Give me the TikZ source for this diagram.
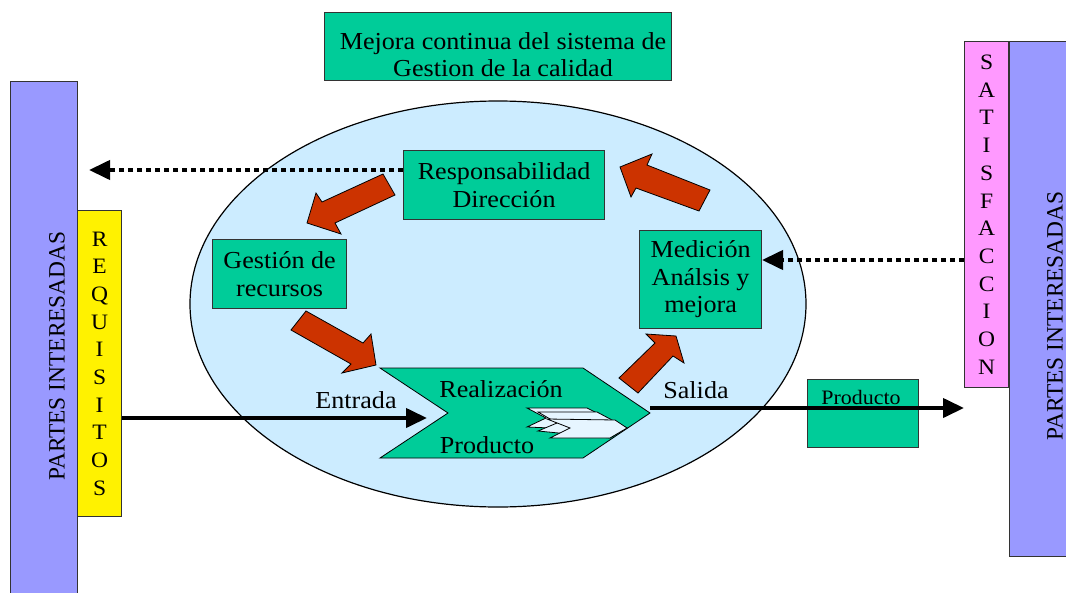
\documentclass[tikz,border=0pt]{standalone}
\usepackage{fontspec}
\setmainfont{Liberation Serif}
\newfontfamily\widefont[FakeStretch=1.07]{Liberation Serif}
\usetikzlibrary{arrows.meta,shapes.geometric}
\definecolor{boxgreen}{HTML}{00CC99}
\definecolor{barblue}{HTML}{9999FF}
\definecolor{barpink}{HTML}{FF99FF}
\definecolor{oval}{HTML}{CCECFF}
\definecolor{blockred}{HTML}{CC3300}
\begin{document}
\begin{tikzpicture}[x=1pt,y=-1pt]

	\tikzstyle{process}=[fill=boxgreen,draw=black!80,line width=1.2pt,
		inner sep=0pt,align=center,anchor=north west,
		font=\widefont\fontsize{24.4}{27.5}\selectfont]
	\tikzstyle{bar}=[fill=barblue,draw=black!80,line width=1.2pt,
		inner sep=0pt,anchor=north west,minimum width=67pt]
	\tikzstyle{strip}=[draw=black!80,line width=1.2pt,inner sep=0pt,
		anchor=north west,minimum width=44pt,align=center,
		font=\widefont\fontsize{22}{27.7}\selectfont]
	\tikzstyle{label}=[inner sep=0pt,align=center,font=\widefont\fontsize{24.4}{27}\selectfont]
	\tikzstyle{sidelabel}=[inner sep=0pt,rotate=90,font=\fontsize{23.4}{27.5}\selectfont]
	\tikzstyle{block}=[fill=blockred,draw=black,line width=0.8pt,line join=miter]
	\tikzstyle{flow}=[line width=4pt,-{Triangle[length=21pt,width=19pt]}]
	\tikzstyle{feedback}=[flow,dash pattern=on 5pt off 4pt]
	\tikzstyle{page}=[fill=oval!50!white,draw=black,line width=0.8pt]

	\clip (0,0) rectangle (1066,592);

	\node[draw=black,line width=1.2pt,fill=oval,ellipse,minimum width=616pt,minimum height=406pt,inner sep=0pt]
		(oval) at (498,304) {};

	\node[process,minimum width=347pt,minimum height=68pt] (mejora) at (324,12) {};
	\node[label] (mejoralabel) at (503,55) {Mejora continua del sistema de\\Gestion de la calidad};
	\node[bar,minimum height=530pt] (left) at (10,81) {};
	\node[bar,minimum height=515pt,minimum width=80pt] (right) at (1009,41) {};
	\node[strip,fill=yellow,minimum height=306pt] (req) at (77,210)
		{R\\E\\Q\\U\\I\\S\\I\\T\\O\\S};
	\node[strip,fill=barpink,minimum height=346pt] (sat) at (964,41)
		{S\\A\\T\\I\\S\\F\\A\\C\\C\\I\\O\\N};
	\node[sidelabel] (leftlabel) at (57,356) {PARTES INTERESADAS};
	\node[sidelabel] (rightlabel) at (1055,316) {PARTES INTERESADAS};

	\node[process,minimum width=201pt,minimum height=69pt] (resp) at (403,150)
		{Responsabilidad\\Dirección};
	\node[process,minimum width=134pt,minimum height=69pt] (gestion) at (212,239)
		{Gestión de\\recursos};
	\node[process,minimum width=122pt,minimum height=98pt] (medicion) at (639,230)
		{Medición\\Análsis y\\mejora};
	\node[process,minimum width=111pt,minimum height=68pt] (producto) at (807,379) {};

	% realizacion
	\draw[fill=boxgreen,draw=black,line width=0.8pt]
		(380,368) -- (583,368) -- (650,413) -- (583,458) -- (380,458) -- (448,413) -- cycle;
	\draw[page] (527,408) -- (587,408) -- (617,423) -- (597,430) -- (527,427) -- (546,418) -- cycle;
	\draw[page] (538,412) -- (597,412) -- (627,428) -- (610,438) -- (538,431) -- (557,423) -- cycle;
	\draw[page] (547,419) -- (615,420) -- (627,428) -- (610,438) -- (550,438) -- (570,428) -- cycle;

	\draw[block] (383,174) -- (395,195) -- (335,223) -- (341,234) -- (307,223) -- (316,193) -- (322,202) -- cycle;
	\draw[block] (306,311) -- (363,343) -- (371,334) -- (376,365) -- (342,373) -- (351,364) -- (291,330) -- cycle;
	\draw[block] (619,378) -- (655,343) -- (646,334) -- (676,336) -- (684,363) -- (673,356) -- (638,393) -- cycle;
	\draw[block] (710,190) -- (647,165) -- (652,154) -- (620,167) -- (631,197) -- (636,188) -- (699,211) -- cycle;

	\coordinate (dirout) at (89,170);
	\coordinate (satin) at (762,260);
	\coordinate (entradaend) at (427,418);
	\coordinate (salidastart) at (650,408);
	\coordinate (salidaend) at (964,408);

	\draw[feedback] (resp.west |- dirout) -- (dirout);
	\draw[feedback] (sat.west |- satin) -- (satin);
	\draw[flow] (req.east |- entradaend) -- (entradaend);
	\draw[flow] (salidastart) -- (salidaend);

	\node[label] (entrada) at (356,400) {Entrada};
	\node[label] (salida) at (696,390) {Salida};
	\node[label] (real1) at (501,389) {Realización};
	\node[label] (real2) at (487,445) {Producto};
	\node[inner sep=0pt,font=\widefont\fontsize{20.5}{22}\selectfont] (prodlabel) at (861,397) {Producto};

\end{tikzpicture}
\end{document}
